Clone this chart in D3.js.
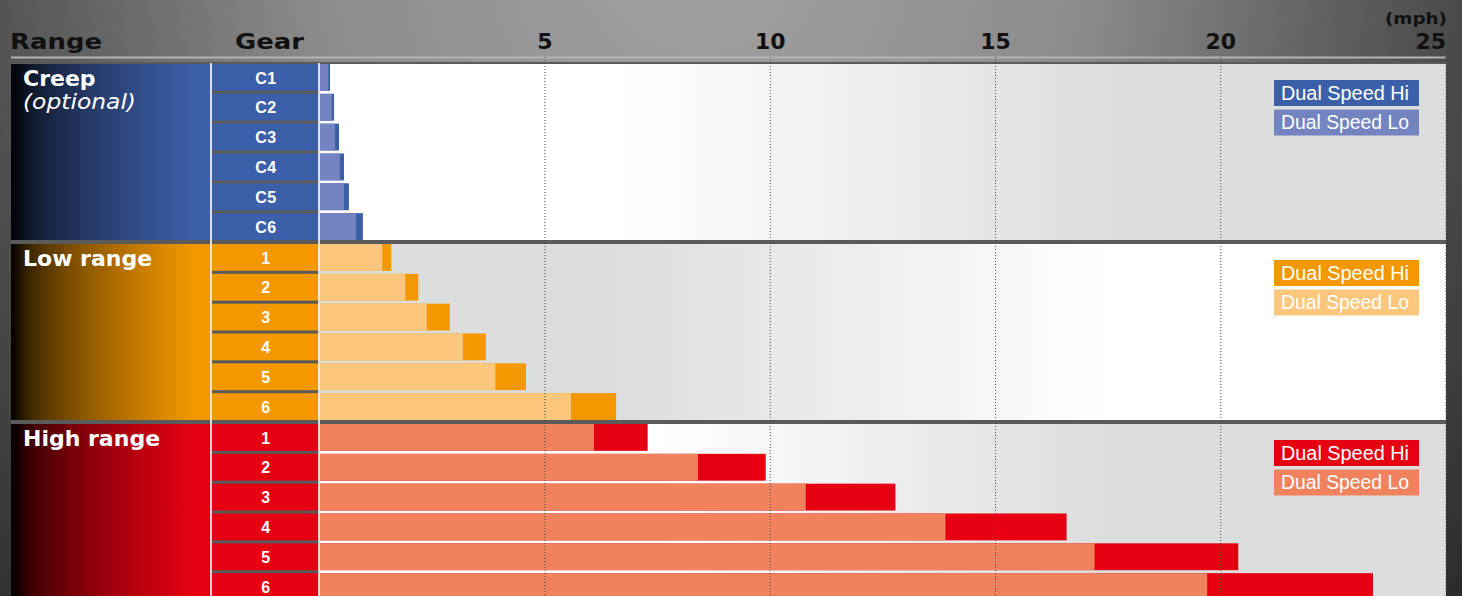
<!DOCTYPE html>
<html>
<head>
<meta charset="utf-8">
<script src="https://cdn.jsdelivr.net/npm/d3@7"></script>
<style>
  html, body { margin: 0; padding: 0; background: #333; overflow: hidden; }
  svg { display: block; }
</style>
</head>
<body>
<script>
// Data (mph)
const ranges = ["Creep", "Low range", "High range"];
const rangeNotes = ["(optional)", "", ""];
const gearsCreep = ["C1", "C2", "C3", "C4", "C5", "C6"];
const gearsStd = ["1", "2", "3", "4", "5", "6"];

const creepLo = [0.20, 0.28, 0.35, 0.46, 0.55, 0.82];
const creepHi = [0.24, 0.33, 0.44, 0.55, 0.66, 0.97];
const lowLo = [1.40, 1.91, 2.39, 3.19, 3.91, 5.59];
const lowHi = [1.60, 2.20, 2.90, 3.70, 4.59, 6.59];
const highLo = [6.10, 8.41, 10.80, 13.90, 17.21, 19.71];
const highHi = [7.29, 9.91, 12.79, 16.59, 20.40, 23.39];

const tickValues = [5, 10, 15, 20, 25];
const legendLabels = ["Dual Speed Hi", "Dual Speed Lo"];

// Styles
const hiColors = ["#3c5fa9", "#f39800", "#e60012"];
const loColors = ["#7384c1", "#fbc77c", "#f0835e"];
const plotFade = [[620, 1110, false], [620, 1110, true], [660, 1100, false]];
const grey = "#dcdedd";

const width = 1462;
const height = 596;

const panels = ranges.map((r, i) => ({
  name: r,
  note: rangeNotes[i],
  gears: i === 0 ? gearsCreep : gearsStd,
  lo: [creepLo, lowLo, highLo][i],
  hi: [creepHi, lowHi, highHi][i],
  hiColor: hiColors[i],
  loColor: loColors[i],
  fade: plotFade[i],
  idx: i
}));

const x = d3.scaleLinear().domain([0, 25]).range([319.2, 1445.5]);
const panelY = d3.scaleBand().domain(ranges).range([64, 600]).paddingInner(4 / 180);

const svg = d3.select("body")
  .append("svg")
  .attr("width", width)
  .attr("height", height);

const defs = svg.append("defs");

// page background
const pageGrad = defs.append("radialGradient")
  .attr("id", "pageBg")
  .attr("gradientUnits", "userSpaceOnUse")
  .attr("cx", 700).attr("cy", -50).attr("r", 1100);
[[0, "#a2a2a2"], [0.35, "#8c8c8c"], [0.68, "#4c4c4c"], [1, "#1e1e1e"]].forEach(s => {
  pageGrad.append("stop").attr("offset", s[0]).attr("stop-color", s[1]);
});

svg.append("rect")
  .attr("width", width).attr("height", height)
  .attr("fill", "url(#pageBg)");

// header line
svg.append("line")
  .attr("x1", 11).attr("x2", 1446)
  .attr("y1", 57.5).attr("y2", 57.5)
  .attr("stroke", "#b4b4b4")
  .attr("stroke-width", 2);

// dark backing behind the panels
svg.append("rect")
  .attr("x", 11).attr("y", 62)
  .attr("width", 1435).attr("height", height - 62)
  .attr("fill", "#5a5a5a");

panels.forEach(p => {
  // range label gradient
  const lg = defs.append("linearGradient")
    .attr("id", "lab" + p.idx)
    .attr("gradientUnits", "userSpaceOnUse")
    .attr("x1", 11).attr("x2", 195).attr("y1", 0).attr("y2", 0);
  d3.range(0, 1.01, 0.1).forEach(t => {
    lg.append("stop")
      .attr("offset", t)
      .attr("stop-color", d3.interpolateRgb("#000", p.hiColor)(Math.pow(t, 0.6)));
  });

  // plot background gradient
  const pg = defs.append("linearGradient")
    .attr("id", "plot" + p.idx)
    .attr("gradientUnits", "userSpaceOnUse")
    .attr("x1", p.fade[0]).attr("x2", p.fade[1]).attr("y1", 0).attr("y2", 0);
  pg.append("stop").attr("offset", 0).attr("stop-color", p.fade[2] ? grey : "#fff");
  pg.append("stop").attr("offset", 1).attr("stop-color", p.fade[2] ? "#fff" : grey);
});

const panelG = svg.selectAll("g.panel")
  .data(panels)
  .join("g")
  .attr("class", "panel");

panelG.each(function(p) {
  const g = d3.select(this);
  const top = panelY(p.name);
  const bh = panelY.bandwidth();
  const rowY = d3.scaleBand().domain(p.gears).range([top, top + bh]).paddingInner(0.1);
  const rows = p.gears.map((gear, j) => ({ gear, lo: p.lo[j], hi: p.hi[j] }));

  g.append("rect")
    .attr("x", 11).attr("y", top)
    .attr("width", 200).attr("height", bh)
    .attr("fill", `url(#lab${p.idx})`);

  g.append("rect")
    .attr("x", 320).attr("y", top)
    .attr("width", 1446 - 320).attr("height", bh)
    .attr("fill", `url(#plot${p.idx})`);

  g.selectAll("rect.gear")
    .data(rows)
    .join("rect")
    .attr("class", "gear")
    .attr("x", 212).attr("y", d => rowY(d.gear))
    .attr("width", 107).attr("height", rowY.bandwidth())
    .attr("fill", p.hiColor);

  g.selectAll("text.gear")
    .data(rows)
    .join("text")
    .attr("class", "gear")
    .attr("x", 266).attr("y", d => rowY(d.gear) + 19.5)
    .attr("text-anchor", "middle")
    .attr("fill", "#fff")
    .attr("font-family", "Liberation Sans, Arial, sans-serif")
    .attr("font-weight", "bold")
    .attr("font-size", 16)
    .attr("letter-spacing", 0.5)
    .text(d => d.gear);

  // hi bar under, lo bar on top
  g.selectAll("rect.hi")
    .data(rows)
    .join("rect")
    .attr("class", "hi")
    .attr("x", x(0)).attr("y", d => rowY(d.gear))
    .attr("width", d => x(d.hi) - x(0)).attr("height", rowY.bandwidth())
    .attr("fill", p.hiColor);

  g.selectAll("rect.lo")
    .data(rows)
    .join("rect")
    .attr("class", "lo")
    .attr("x", x(0)).attr("y", d => rowY(d.gear))
    .attr("width", d => x(d.lo) - x(0)).attr("height", rowY.bandwidth())
    .attr("fill", p.loColor);

  // range label
  g.append("text")
    .attr("x", 23).attr("y", top + 21.5)
    .attr("fill", "#fff")
    .attr("font-family", "DejaVu Sans")
    .attr("font-weight", "bold")
    .attr("font-size", 22)
    .text(p.name);

  if (p.note) {
    g.append("text")
      .attr("x", 23).attr("y", top + 44.5)
      .attr("fill", "#fff")
      .attr("font-family", "DejaVu Sans")
      .attr("font-style", "oblique")
      .attr("font-size", 21)
      .attr("textLength", 113)
      .attr("lengthAdjust", "spacingAndGlyphs")
      .text(p.note);
  }

  // legend
  const leg = g.selectAll("g.leg")
    .data(legendLabels)
    .join("g")
    .attr("class", "leg")
    .attr("transform", (d, k) => `translate(1274, ${top + 16 + k * 29.5})`);

  leg.append("rect")
    .attr("width", 145).attr("height", 26)
    .attr("fill", (d, k) => k === 0 ? p.hiColor : p.loColor);

  leg.append("text")
    .attr("x", 7).attr("y", 19.5)
    .attr("fill", "#fff")
    .attr("font-family", "Liberation Sans, Arial, sans-serif")
    .attr("font-size", 19.5)
    .attr("textLength", 128)
    .attr("lengthAdjust", "spacingAndGlyphs")
    .text(d => d);
});

// dotted grid lines
svg.append("g")
  .attr("transform", "translate(0,57)")
  .call(d3.axisBottom(x).tickValues(tickValues).tickSize(height - 57).tickFormat(""))
  .call(g => g.select(".domain").remove())
  .selectAll("line")
  .attr("stroke", "#444")
  .attr("stroke-width", 1)
  .attr("stroke-dasharray", "1,2");

// white column separators
[211, 319].forEach(xx => {
  svg.append("line")
    .attr("x1", xx).attr("x2", xx)
    .attr("y1", 63).attr("y2", height)
    .attr("stroke", "#fff")
    .attr("stroke-width", 1.6);
});

// tick labels
const axisTop = svg.append("g")
  .attr("transform", "translate(0,49)")
  .call(d3.axisTop(x).tickValues(tickValues).tickSize(0).tickPadding(0));
axisTop.select(".domain").remove();
axisTop.selectAll("text")
  .attr("fill", "#111")
  .attr("font-family", "DejaVu Sans")
  .attr("font-weight", "bold")
  .attr("font-size", 22)
  .attr("text-anchor", d => d === 25 ? "end" : "middle");

// headers
svg.append("text")
  .attr("x", 10).attr("y", 49)
  .attr("fill", "#111")
  .attr("font-family", "DejaVu Sans")
  .attr("font-weight", "bold")
  .attr("font-size", 22)
  .attr("textLength", 92)
  .attr("lengthAdjust", "spacingAndGlyphs")
  .text("Range");

svg.append("text")
  .attr("x", 235).attr("y", 49)
  .attr("fill", "#111")
  .attr("font-family", "DejaVu Sans")
  .attr("font-weight", "bold")
  .attr("font-size", 22)
  .attr("textLength", 69)
  .attr("lengthAdjust", "spacingAndGlyphs")
  .text("Gear");

svg.append("text")
  .attr("x", 1447).attr("y", 24)
  .attr("text-anchor", "end")
  .attr("fill", "#111")
  .attr("font-family", "DejaVu Sans")
  .attr("font-weight", "bold")
  .attr("font-size", 15)
  .attr("textLength", 62)
  .attr("lengthAdjust", "spacingAndGlyphs")
  .text("(mph)");
</script>
</body>
</html>
